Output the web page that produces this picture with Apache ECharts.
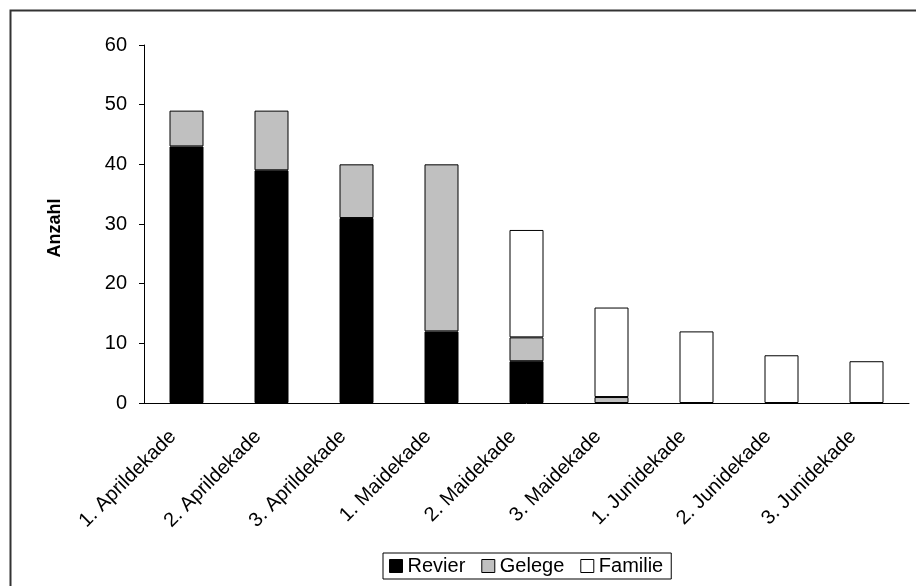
<!DOCTYPE html>
<html>
<head>
<meta charset="utf-8">
<script src="https://cdn.jsdelivr.net/npm/echarts@6/dist/echarts.min.js"></script>
<style>
  html, body { margin: 0; padding: 0; background: #fff; }
  #chart { width: 916px; height: 586px; }
</style>
</head>
<body>
<div id="chart"></div>
<script>
// Data
const categories = [
  "1. Aprildekade", "2. Aprildekade", "3. Aprildekade",
  "1. Maidekade", "2. Maidekade", "3. Maidekade",
  "1. Junidekade", "2. Junidekade", "3. Junidekade"
];
const revier = [43, 39, 31, 12, 7, 0, 0, 0, 0];
const gelege = [6, 10, 9, 28, 4, 1, 0, 0, 0];
const familie = [0, 0, 0, 0, 18, 15, 12, 8, 7];
const yTicks = [0, 10, 20, 30, 40, 50, 60];

const chart = echarts.init(document.getElementById("chart"));

const font = "Liberation Sans, Arial, sans-serif";

function barSeries(name, data, color) {
  return {
    name: name,
    type: "bar",
    stack: "total",
    barWidth: "40%",
    // zero segments are not drawn (no stray border lines)
    data: data.map(v => (v === 0 ? "-" : v)),
    itemStyle: { color: color, borderColor: "#000", borderWidth: 1 },
    emphasis: { disabled: true }
  };
}

const option = {
  animation: false,
  backgroundColor: "#fff",
  textStyle: { fontFamily: font, color: "#000" },
  graphic: [
    {
      type: "rect",
      shape: { x: 10.5, y: 10.5, width: 920, height: 600 },
      style: { fill: "none", stroke: "#333", lineWidth: 2 },
      z: -1
    }
  ],
  grid: { left: 144, right: 7, top: 45, bottom: 183 },
  legend: {
    top: 553,
    left: 383,
    icon: "rect",
    itemWidth: 13,
    itemHeight: 13,
    itemGap: 16,
    borderColor: "#000",
    borderWidth: 1,
    padding: [3, 8, 3, 6],
    textStyle: { fontFamily: font, fontSize: 20, color: "#000" },
    itemStyle: { borderColor: "#000", borderWidth: 1 },
    data: ["Revier", "Gelege", "Familie"]
  },
  xAxis: {
    type: "category",
    data: categories,
    axisLine: { lineStyle: { color: "#000", width: 1 } },
    axisTick: { length: 5, lineStyle: { color: "#000" } },
    axisLabel: {
      rotate: 45,
      interval: 0,
      margin: 3,
      align: "right",
      verticalAlign: "top",
      padding: [0, 29, 0, 0],
      fontFamily: font,
      fontSize: 20,
      color: "#000"
    }
  },
  yAxis: {
    type: "value",
    min: yTicks[0],
    max: yTicks[yTicks.length - 1],
    interval: 10,
    name: "Anzahl",
    nameLocation: "middle",
    nameRotate: 90,
    nameGap: 80,
    nameTextStyle: {
      fontFamily: font, fontSize: 18, fontWeight: "bold", color: "#000",
      padding: [0, 8, 0, 0]
    },
    axisLine: { show: true, lineStyle: { color: "#000", width: 1 } },
    axisTick: { show: true, length: 5, lineStyle: { color: "#000" } },
    splitLine: { show: false },
    axisLabel: { margin: 17, fontFamily: font, fontSize: 20, color: "#000" }
  },
  series: [
    barSeries("Revier", revier, "#000"),
    barSeries("Gelege", gelege, "#c0c0c0"),
    barSeries("Familie", familie, "#fff")
  ]
};

chart.setOption(option);
</script>
</body>
</html>
